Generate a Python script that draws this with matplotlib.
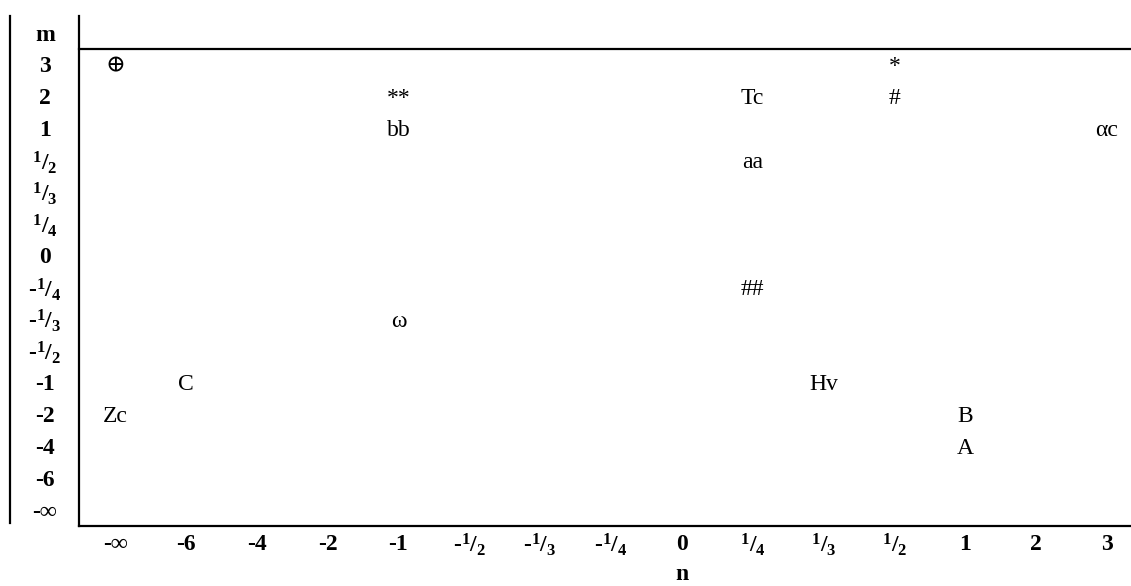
import matplotlib
matplotlib.use("Agg")
import matplotlib.pyplot as plt
import matplotlib.transforms as mtransforms

plt.rcParams['font.family'] = ['Liberation Serif', 'DejaVu Serif']
plt.rcParams['mathtext.fontset'] = 'custom'
plt.rcParams['mathtext.rm'] = 'Liberation Serif:bold'
plt.rcParams['mathtext.it'] = 'Liberation Serif:bold'
plt.rcParams['mathtext.bf'] = 'Liberation Serif:bold'

# shared category order for both axes (low -> high)
categories = ['-∞', '-6', '-4', '-2', '-1', '-1/2', '-1/3', '-1/4',
              '0', '1/4', '1/3', '1/2', '1', '2', '3']

# entries of the table: symbol, n value, m value
symbols = ['⊕', '**', 'bb', 'ω', 'C', 'Zc', 'Tc', 'aa', '##',
           '*', '#', 'Hv', 'B', 'A', 'αc']
n_vals = ['-∞', '-1', '-1', '-1', '-6', '-∞', '1/4', '1/4', '1/4',
          '1/2', '1/2', '1/3', '1', '1', '3']
m_vals = ['3', '2', '1', '-1/3', '-1', '-2', '2', '1/2', '-1/4',
          '3', '2', '-1', '-2', '-4', '1']


def tick_text(s):
    # fractions drawn as superscript numerator / subscript denominator
    if '/' not in s:
        return s
    sign = '-' if s.startswith('-') else ''
    num, den = s.lstrip('-').split('/')
    return sign + r'$^{%s}/_{%s}$' % (num, den)


W, H = 1131, 586
fig = plt.figure(figsize=(W / 100, H / 100), dpi=100)
ax = fig.add_axes([79 / W, 1 - 526 / H, 1 - 79 / W, (526 - 16) / H])

pos = {c: i for i, c in enumerate(categories)}
ncat = len(categories)
ax.set_xlim(-0.51, 14.34)
ax.set_ylim(-0.44, 15.6)

for s, n, m in zip(symbols, n_vals, m_vals):
    ax.text(pos[n], pos[m], s, ha='center', va='center', fontsize=17)

ax.set_xticks(range(ncat))
ax.set_xticklabels([tick_text(c) for c in categories],
                   fontsize=17, fontweight='bold')
ax.set_yticks(list(range(ncat)) + [ncat])
ax.set_yticklabels([tick_text(c) for c in categories] + ['m'],
                   fontsize=17, fontweight='bold')
ax.tick_params(axis='both', length=0)
ax.tick_params(axis='x', pad=13.5)
ax.tick_params(axis='y', pad=24.5)
for t in ax.get_xticklabels():
    t.set_va('center')
for t in ax.get_yticklabels():
    t.set_ha('center')
    t.set_va('center')

ax.set_xlabel('n', fontsize=17, fontweight='bold', va='center')
x0, x1 = ax.get_xlim()
ax.xaxis.set_label_coords((pos['0'] - x0) / (x1 - x0), -0.096)

for side in ['top', 'right']:
    ax.spines[side].set_visible(False)
for side in ['left', 'bottom']:
    ax.spines[side].set_linewidth(1.6)

# header rule under the "m" row
ax.axhline(ncat - 0.43, color='black', lw=1.6, clip_on=False)

# outer left rule of the row-label column
trans = mtransforms.blended_transform_factory(fig.transFigure, ax.transData)
ax.plot([10 / W, 10 / W], [-0.35, 15.6], color='black', lw=1.6,
        transform=trans, clip_on=False)

fig.savefig('out.png', dpi=100)
